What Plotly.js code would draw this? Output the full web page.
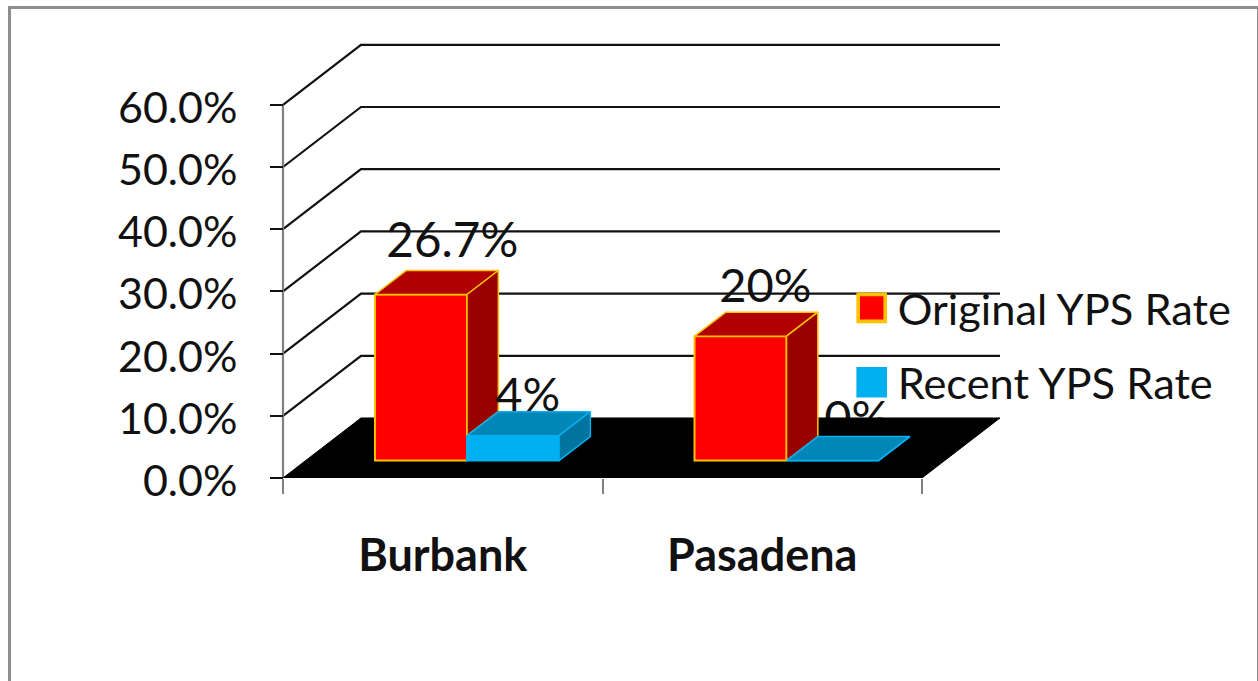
<!DOCTYPE html>
<html>
<head>
<meta charset="utf-8">
<script src="https://cdn.plot.ly/plotly-3.0.1.min.js"></script>
<style>
html,body{margin:0;padding:0;background:#fff;overflow:hidden}
#chart{position:absolute;left:0;top:0;width:1258px;height:681px}
#frame{position:absolute;left:8px;top:6px;width:1246px;height:690px;border:3px solid #8e8e8e;pointer-events:none}
#chart .legendpoints path{transform:translate(20px,0) scale(2.25);stroke-width:1.6px !important}
#chart g.ytick{transform:translate(0,3px)}
</style>
</head>
<body>
<div id="chart"></div>
<div id="frame"></div>
<script>
// Data
const categories = ['Burbank', 'Pasadena'];
const categoryPositions = [0, 1];
const categoryCentres = [0.5, 1.5];
const categoryEdges = [0, 1, 2];
const originalRate = [26.7, 20];
const recentRate = [4, 0];
const originalLabels = ['26.7%', '20%'];
const recentLabels = ['4%', '0%'];
const yTicks = [0, 10, 20, 30, 40, 50, 60];
const yTickLabels = ['0.0%', '10.0%', '20.0%', '30.0%', '40.0%', '50.0%', '60.0%'];
const seriesNames = ['Original YPS Rate', 'Recent YPS Rate'];

// Pseudo-3D geometry, in axis units
const wallDx = 0.2441, wallDy = 9.65;
const barDx = 0.098, barDy = 3.86;
const barBase = 2.8, barWidth = 0.288, barOffset = 0.288;
const xEnd = 2;

const FONT = 'Lato, "Open Sans", sans-serif';
const INK = '#111111', RULE = '#808080';

function gridLines() {
  const xs = [], ys = [];
  yTicks.slice(1).forEach(v => {
    xs.push(0, wallDx, xEnd + wallDx, null);
    ys.push(v, v + wallDy, v + wallDy, null);
  });
  return {x: xs, y: ys};
}
function poly(xs, ys, fill, line, w) {
  return {type: 'scatter', mode: 'lines', x: xs, y: ys, fill: 'toself', fillcolor: fill,
          line: {color: line, width: w || 1.5}, hoverinfo: 'skip', showlegend: false,
          cliponaxis: false, xaxis: 'x2', yaxis: 'y2'};
}
function label(x, y, text, size, onBase) {
  return {type: 'scatter', mode: 'text', x: [x], y: [y], text: [text], textposition: 'middle center',
          textfont: {family: FONT, size: size, color: INK}, hoverinfo: 'skip', showlegend: false,
          cliponaxis: false, xaxis: onBase ? 'x' : 'x2', yaxis: onBase ? 'y' : 'y2'};
}

const grid = gridLines();
const traces = [];

// Base subplot: walls, the label that the floor partly hides, the floor
traces.push({type: 'scatter', mode: 'lines', x: grid.x, y: grid.y, cliponaxis: false,
             line: {color: INK, width: 2.2}, hoverinfo: 'skip', showlegend: false});
traces.push({type: 'scatter', mode: 'lines', x: [0, 0], y: [0, yTicks[yTicks.length - 1]], cliponaxis: false,
             line: {color: RULE, width: 2.2}, hoverinfo: 'skip', showlegend: false});
traces.push(label(categoryPositions[1] + barOffset * 2 + 0.22, barBase + recentRate[1] + barDy + 2.3, recentLabels[1], 47, true));
traces.push({type: 'scatter', mode: 'lines', cliponaxis: false,
             x: [0, wallDx, xEnd + wallDx, xEnd, 0], y: [0, wallDy, wallDy, 0, 0],
             fill: 'toself', fillcolor: '#000000', line: {color: '#000000', width: 1},
             hoverinfo: 'skip', showlegend: false});

// Overlay subplot: the bars and their 3D faces
traces.push({type: 'bar', name: seriesNames[0], x: categoryPositions, y: originalRate,
             base: [barBase, barBase], width: barWidth, offset: barOffset,
             marker: {color: '#FF0000', line: {color: '#FFC000', width: 2}},
             legendgroup: 'a', hoverinfo: 'skip', xaxis: 'x2', yaxis: 'y2'});
traces.push({type: 'bar', name: seriesNames[1], x: categoryPositions, y: recentRate,
             base: [barBase, barBase], width: barWidth, offset: barOffset * 2,
             marker: {color: '#00B0F0', line: {color: '#00B0F0', width: 2}},
             legendgroup: 'b', hoverinfo: 'skip', xaxis: 'x2', yaxis: 'y2'});

categoryPositions.forEach((p, i) => {
  const a = p + barOffset, b = a + barWidth;
  const red = barBase + originalRate[i], blue = barBase + recentRate[i];
  // red top
  traces.push(poly([a, a + barDx, b + barDx, b, a], [red, red + barDy, red + barDy, red, red], '#B00000', '#FFC000'));
  // red side, down to where the blue bar starts
  traces.push(poly([b, b + barDx, b + barDx, b, b], [red, red + barDy, blue + barDy, blue, red], '#990000', '#FFC000'));
});
traces.push(label(categoryPositions[0] + 0.53, barBase + originalRate[0] + barDy + 4.0, originalLabels[0], 47.5));
traces.push(label(categoryPositions[0] + barOffset * 2 + 0.19, barBase + recentRate[0] + barDy + 2.0, recentLabels[0], 47));
traces.push(label(categoryPositions[1] + 0.51, barBase + originalRate[1] + barDy + 3.5, originalLabels[1], 47));
categoryPositions.forEach((p, i) => {
  const a = p + barOffset * 2, b = a + barWidth;
  const blue = barBase + recentRate[i];
  // blue top
  traces.push(poly([a, a + barDx, b + barDx, b, a], [blue, blue + barDy, blue + barDy, blue, blue], '#0087B8', '#00B0F0'));
  // blue side
  traces.push(poly([b, b + barDx, b + barDx, b, b], [barBase, barBase + barDy, blue + barDy, blue, barBase], '#00749E', '#00B0F0'));
});

// Plot area extends a little past the walls so their lines are not clipped
const yRange = [0, 438 / 6.22];
const xRange = [-4 / 319.5, 718 / 319.5];
const layout = {
  width: 1258, height: 681,
  margin: {l: 279, r: 257, t: 40, b: 203, pad: 0},
  paper_bgcolor: 'rgba(0,0,0,0)', plot_bgcolor: 'rgba(0,0,0,0)',
  barmode: 'overlay',
  showlegend: true,
  legend: {x: 0.7932, y: 0.4676, xanchor: 'left', yanchor: 'top', bgcolor: 'rgba(0,0,0,0)',
           font: {family: FONT, size: 43.4, color: INK}, itemwidth: 36,
           traceorder: 'grouped', tracegroupgap: 15, itemclick: false, itemdoubleclick: false},
  xaxis: {range: xRange, tickmode: 'array', tickvals: categoryCentres, ticktext: categories,
          ticks: '', showgrid: false, zeroline: false, showline: false, fixedrange: true,
          ticklabelstandoff: 47, tickfont: {family: FONT, size: 45, color: INK, weight: 700},
          minor: {tickmode: 'array', tickvals: categoryEdges, ticks: 'outside', ticklen: 15,
                  tickwidth: 2, tickcolor: RULE, showgrid: false}},
  yaxis: {range: yRange, tickmode: 'array', tickvals: yTicks, ticktext: yTickLabels,
          anchor: 'free', position: 4 / 722,
          ticks: 'outside', ticklen: 13, tickwidth: 2, tickcolor: INK, showgrid: false,
          zeroline: false, showline: false, fixedrange: true,
          ticklabelstandoff: 24, tickfont: {family: FONT, size: 43, color: INK}},
  xaxis2: {range: xRange, overlaying: 'x', visible: false, fixedrange: true},
  yaxis2: {range: yRange, overlaying: 'y', visible: false, fixedrange: true}
};
Plotly.newPlot('chart', traces, layout, {displayModeBar: false, staticPlot: false});
</script>
</body>
</html>
